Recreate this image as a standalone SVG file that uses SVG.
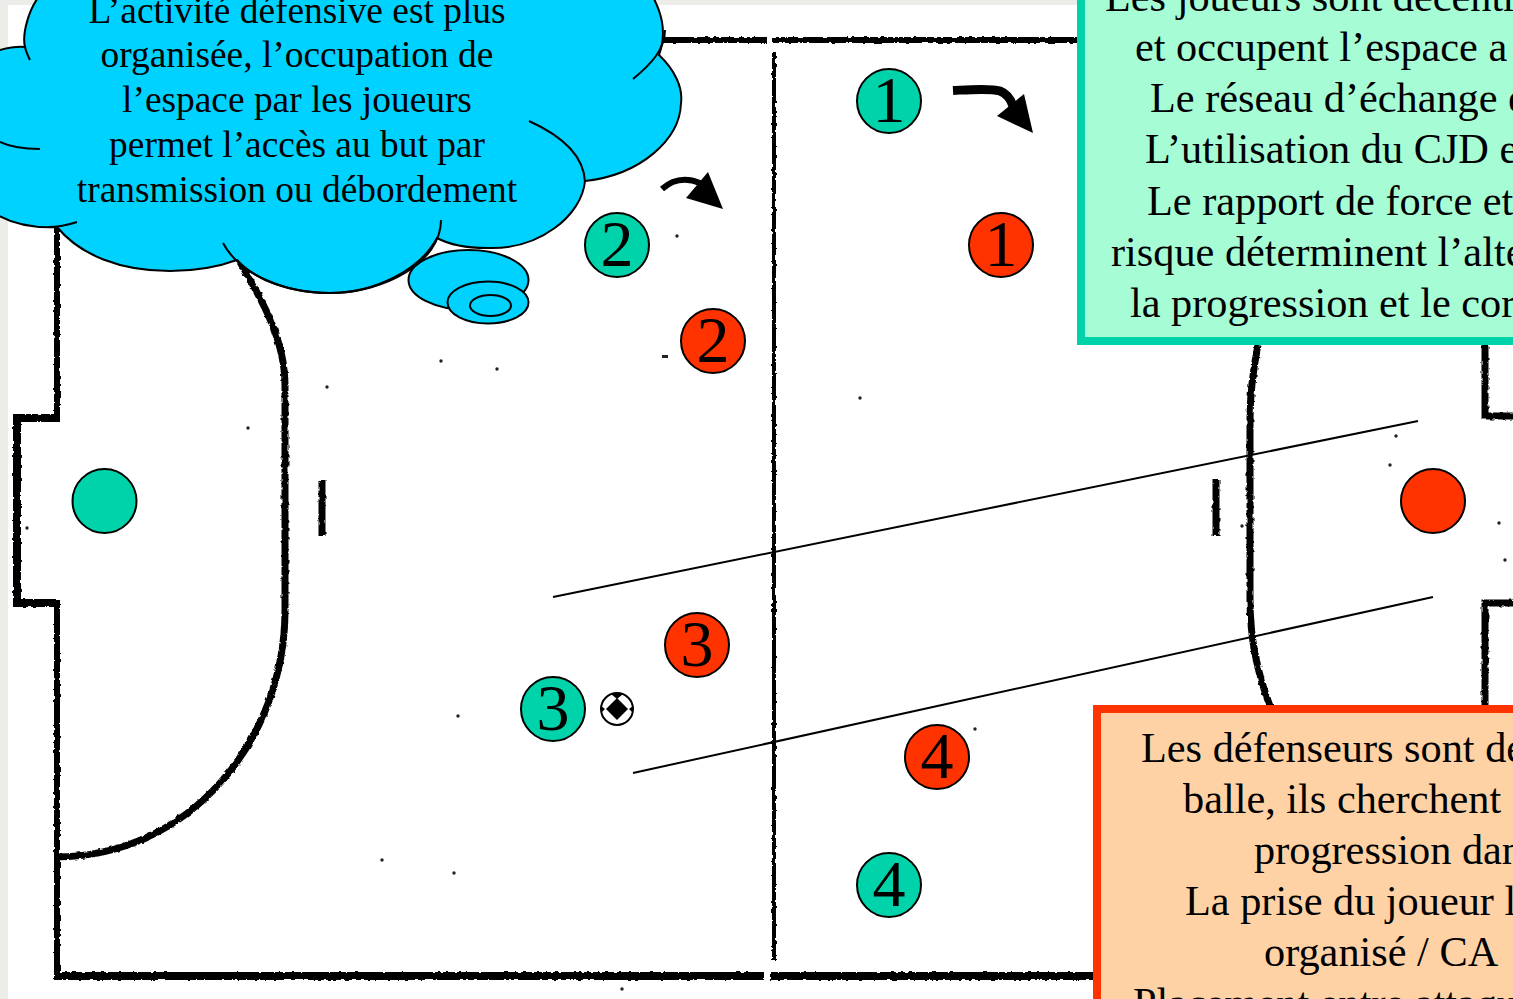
<svg xmlns="http://www.w3.org/2000/svg" width="1513" height="999" viewBox="0 0 1513 999">
<style>
text{font-family:"Liberation Serif","Times New Roman",serif;fill:#000}
.f{fill:none;stroke:#000;stroke-linecap:butt;stroke-linejoin:miter}
.p{stroke:#000;stroke-width:2}
.g{fill:#00d2aa}.r{fill:#ff3300}
.d{font-size:66px;text-anchor:middle}
.c{font-size:37.400px;text-anchor:middle}
.b{font-size:42.300px}
.cl{fill:#00d2ff;stroke:#000;stroke-width:2}
.t{fill:none;stroke:#000;stroke-width:2}
.s{fill:#222}
</style>
<defs>
<filter id="rough" x="-5%" y="-5%" width="110%" height="110%" filterUnits="objectBoundingBox">
<feTurbulence type="fractalNoise" baseFrequency="0.22" numOctaves="2" seed="4" result="n"/>
<feDisplacementMap in="SourceGraphic" in2="n" scale="3.500" xChannelSelector="R" yChannelSelector="G"/>
</filter>
</defs>
<rect width="1513" height="999" fill="#fff"/>
<g id="paper"><rect width="1513" height="5" fill="#ecece8"/><rect width="8" height="999" fill="#ecece8"/></g>
<g id="field">
<g filter="url(#rough)">
<path class="f" stroke-width="6" d="M60,40H767M772,40H1080"/>
<path class="f" stroke-width="6" d="M57,40V418"/>
<path class="f" stroke-width="8" d="M60,418H17V603H57"/>
<path class="f" stroke-width="6" d="M57,600V975"/>
<path class="f" stroke-width="8" d="M54,976H764M770,976H1095"/>
<path class="f" stroke-width="4" d="M774,52V960"/>
<path class="f" stroke-width="7" d="M240,262C262,300 285,340 285,385V610C285,740 190,857 56,857"/>
<path class="f" stroke-width="7" d="M322,480V536"/>
<path class="f" stroke-width="7" d="M1216,480V536"/>
<path class="f" stroke-width="7" d="M1258,345C1253,370 1250,395 1250,420V600C1250,640 1258,675 1270,706"/>
<path class="f" stroke-width="7" d="M1485,345V416H1513M1513,603H1485V706"/>
</g>
<g id="specks">
<circle class="s" cx="677" cy="236" r="1.700"/><circle class="s" cx="441" cy="361" r="1.700"/><circle class="s" cx="497" cy="369" r="1.700"/><circle class="s" cx="327" cy="387" r="1.700"/><rect class="s" x="662" y="355" width="6" height="3"/><circle class="s" cx="248" cy="428" r="1.700"/><circle class="s" cx="860" cy="398" r="1.700"/><circle class="s" cx="458" cy="716" r="1.700"/><circle class="s" cx="382" cy="860" r="1.700"/><circle class="s" cx="454" cy="873" r="1.700"/><circle class="s" cx="975" cy="729" r="1.700"/><circle class="s" cx="622" cy="989" r="1.700"/><circle class="s" cx="1396" cy="436" r="1.700"/><circle class="s" cx="1390" cy="465" r="1.700"/><circle class="s" cx="1242" cy="526" r="1.700"/><circle class="s" cx="1499" cy="523" r="1.700"/><circle class="s" cx="1505" cy="560" r="1.700"/><circle class="s" cx="27" cy="528" r="1.700"/>
</g>
</g>
<g id="connectors">
<path fill="none" stroke="#000" stroke-width="2" d="M553,597L1418,421M633,773L1433,597"/>
<path fill="none" stroke="#000" stroke-width="9" d="M953,90.500C972,89.500 990,88 1000,91C1008,94 1011,100 1013,106"/>
<polygon points="1033,133 997,116 1024,94"/>
<path fill="none" stroke="#000" stroke-width="6" d="M662,189C672,180 685,177 700,183"/>
<polygon points="723,209 686,198 708,172"/>
</g>
<g id="cloud">
<ellipse class="cl" cx="468.500" cy="280" rx="60" ry="30"/>
<ellipse class="cl" cx="488" cy="302.500" rx="40.500" ry="21"/>
<ellipse class="cl" cx="490.500" cy="305.500" rx="20.500" ry="10.500"/>
<path class="cl" d="M-10,53C5,48 15,46 25,47C22,35 28,10 40,-5L652,-5C660,10 668,30 659,55C675,70 683,88 681,103C680,140 640,175 585,181C582,215 540,250 487,248C470,248 450,245 437,238C420,270 375,293 330,293C290,293 255,280 237,260C215,268 195,271 170,271C120,271 80,255 57,227C35,228 10,225 -10,210Z"/>
<path class="t" d="M25,47C26,52 28,56 30,60M665,30C665,50 650,65 633,79M529,121C560,135 584,155 585,182M441,220C441,262 385,293 330,293C285,293 240,275 223,243M77,222C65,226 55,227 48,227M0,142C12,148 25,149 40,149"/>
<text class="c" x="297" y="23">L’activité défensive est plus</text>
<text class="c" x="297" y="67">organisée, l’occupation de</text>
<text class="c" x="297" y="112">l’espace par les joueurs</text>
<text class="c" x="297" y="157">permet l’accès au but par</text>
<text class="c" x="297" y="202">transmission ou débordement</text>
</g>
<g id="box-attaque">
<rect x="1081" y="-10" width="450" height="351" fill="#a6fcd4" stroke="#00d2aa" stroke-width="8"/>
<text class="b" x="1105" y="11">Les joueurs sont décentr</text>
<text class="b" x="1135" y="61">et occupent l’espace a</text>
<text class="b" x="1150" y="112">Le réseau d’échange e</text>
<text class="b" x="1145" y="163">L’utilisation du CJD e</text>
<text class="b" x="1147" y="215">Le rapport de force et</text>
<text class="b" x="1111" y="266">risque déterminent l’alte</text>
<text class="b" x="1130" y="317">la progression et le cor</text>
</g>
<g id="box-defense">
<rect x="1097" y="709" width="440" height="310" fill="#ffd2a6" stroke="#ff3300" stroke-width="8"/>
<text class="b" x="1141" y="762">Les défenseurs sont de</text>
<text class="b" x="1183" y="813">balle, ils cherchent</text>
<text class="b" x="1254" y="864">progression dan</text>
<text class="b" x="1185" y="915">La prise du joueur l</text>
<text class="b" x="1264" y="966">organisé / CA</text>
<text class="b" x="1133" y="1017">Placement entre attaqu</text>
</g>
<g id="gk-vert"><circle class="p g" cx="104.500" cy="501" r="32"/></g>
<g id="gk-rouge"><circle class="p r" cx="1433" cy="501" r="32"/></g>
<g id="v1"><circle class="p g" cx="889" cy="101" r="32"/><text class="d" x="889" y="122">1</text></g>
<g id="v2"><circle class="p g" cx="617" cy="245" r="32"/><text class="d" x="617" y="266">2</text></g>
<g id="v3"><circle class="p g" cx="553" cy="709" r="32"/><text class="d" x="553" y="730">3</text></g>
<g id="v4"><circle class="p g" cx="889" cy="885" r="32"/><text class="d" x="889" y="906">4</text></g>
<g id="r1"><circle class="p r" cx="1001" cy="245" r="32"/><text class="d" x="1001" y="266">1</text></g>
<g id="r2"><circle class="p r" cx="713" cy="341" r="32"/><text class="d" x="713" y="362">2</text></g>
<g id="r3"><circle class="p r" cx="697" cy="645" r="32"/><text class="d" x="697" y="666">3</text></g>
<g id="r4"><circle class="p r" cx="937" cy="757" r="32"/><text class="d" x="937" y="778">4</text></g>
<g id="ballon">
<circle cx="617" cy="709" r="16" fill="#fff" stroke="#000" stroke-width="2"/>
<polygon points="617,698 628,709 617,720 606,709"/>
<polygon points="611,694 623,694 617,699"/>
<polygon points="601,706 605,709 601,713"/><polygon points="633,706 629,709 633,713"/>
</g>
</svg>
